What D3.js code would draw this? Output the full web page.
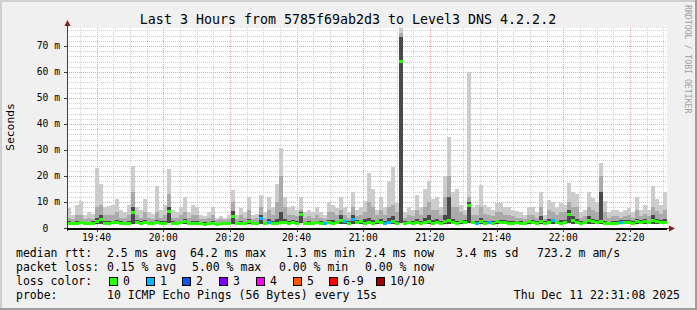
<!DOCTYPE html>
<html>
<head>
<meta charset="utf-8">
<script src="https://cdn.jsdelivr.net/npm/d3@7"></script>
<style>
  body { margin: 0; background: #f0f0f0; }
  text { font-family: "DejaVu Sans Mono", monospace; white-space: pre; }
</style>
</head>
<body>
<svg id="chart" width="697" height="310"></svg>
<script>
// chart data
const title = "Last 3 Hours from 5785f69ab2d3 to Level3 DNS 4.2.2.2";
const yAxisTitle = "Seconds";
const startTime = new Date(2025, 11, 11, 19, 31, 8);
const endTime = new Date(2025, 11, 11, 22, 31, 8);
const stepSec = 72; // one sample every 72s
const yTicks = [0, 10, 20, 30, 40, 50, 60, 70];
const yTickLabels = ["0  ", "10 m", "20 m", "30 m", "40 m", "50 m", "60 m", "70 m"];

// median rtt per sample (ms)
const medianRtt = [
  2.0, 1.8, 2.0, 2.2, 1.9, 1.8, 2.0, 2.5, 3.5, 2.0, 2.1, 2.2, 2.4, 2.0, 1.9,
  2.1, 6.0, 2.3, 2.0, 2.2, 1.9, 1.8, 2.3, 2.0, 2.1, 6.5, 2.0, 1.9, 2.2, 2.6,
  1.9, 2.1, 2.0, 1.8, 1.7, 1.9, 2.0, 1.7, 1.8, 1.8, 1.9, 4.5, 1.8, 2.0, 1.9,
  2.5, 1.8, 1.9, 4.0, 1.8, 2.2, 2.0, 2.1, 2.2, 2.4, 1.9, 2.3, 2.1, 5.4, 1.9,
  2.0, 1.9, 2.2, 2.0, 1.9, 2.4, 2.0, 2.2, 3.0, 2.5, 2.0, 3.5, 2.3, 2.5, 2.0,
  2.4, 2.0, 2.6, 2.2, 1.9, 2.3, 2.5, 2.1, 64.2, 2.0, 2.2, 2.1, 2.4, 1.9, 2.3,
  2.5, 2.0, 2.4, 2.1, 2.6, 3.0, 2.2, 1.9, 2.5, 2.3, 9.0, 2.2, 2.0, 2.5, 2.1,
  2.2, 2.0, 2.5, 2.3, 2.4, 2.1, 1.9, 2.2, 2.0, 1.8, 2.5, 2.3, 2.0, 2.6, 2.0,
  2.4, 3.0, 2.2, 2.0, 2.3, 5.4, 3.0, 2.4, 2.0, 2.2, 3.0, 2.6, 2.2, 2.5, 2.1,
  1.9, 2.0, 1.9, 2.3, 2.4, 2.2, 2.0, 2.6, 2.4, 2.6, 2.2, 3.0, 2.6, 2.3, 2.4
];
// lowest ping per sample
const smokeLow = [
  1.4, 1.3, 1.4, 1.5, 1.4, 1.3, 1.4, 1.5, 1.6, 1.4, 1.4, 1.5, 1.5, 1.4, 1.3,
  1.4, 1.7, 1.5, 1.4, 1.5, 1.3, 1.3, 1.5, 1.4, 1.4, 1.8, 1.4, 1.3, 1.5, 1.6,
  1.3, 1.4, 1.4, 1.3, 1.3, 1.3, 1.4, 1.3, 1.3, 1.3, 1.3, 1.6, 1.3, 1.4, 1.3,
  1.5, 1.3, 1.3, 1.6, 1.3, 1.5, 1.4, 1.4, 1.5, 1.5, 1.3, 1.5, 1.4, 1.8, 1.3,
  1.4, 1.3, 1.5, 1.4, 1.3, 1.5, 1.4, 1.5, 1.7, 1.5, 1.4, 1.7, 1.5, 1.5, 1.4,
  1.5, 1.4, 1.6, 1.5, 1.3, 1.5, 1.6, 1.4, 2.0, 1.4, 1.5, 1.4, 1.5, 1.3, 1.5,
  1.6, 1.4, 1.5, 1.4, 1.6, 1.7, 1.5, 1.3, 1.6, 1.5, 2.0, 1.5, 1.4, 1.6, 1.4,
  1.5, 1.4, 1.6, 1.5, 1.5, 1.4, 1.3, 1.5, 1.4, 1.3, 1.6, 1.5, 1.4, 1.6, 1.4,
  1.5, 1.7, 1.5, 1.4, 1.5, 1.8, 1.7, 1.5, 1.4, 1.5, 1.7, 1.6, 1.5, 1.6, 1.4,
  1.3, 1.4, 1.3, 1.5, 1.5, 1.5, 1.4, 1.6, 1.5, 1.6, 1.5, 1.7, 1.6, 1.5, 1.5
];
// inner (darkest) smoke band top
const smokeDark = [
  2.5, 2.3, 2.6, 2.8, 2.4, 2.3, 2.5, 4.0, 5.0, 2.6, 2.7, 2.8, 3.2, 2.5, 2.4,
  2.8, 8.0, 2.9, 2.5, 2.9, 2.4, 2.3, 3.2, 2.5, 2.7, 8.0, 2.5, 2.4, 2.8, 3.4,
  2.4, 2.8, 2.6, 2.3, 2.2, 2.4, 2.7, 2.1, 2.3, 2.3, 2.4, 6.5, 2.3, 2.7, 2.4,
  3.6, 2.3, 2.4, 5.0, 2.3, 3.4, 2.7, 3.6, 6.0, 3.4, 2.5, 2.9, 2.7, 6.0, 2.4,
  2.6, 2.4, 2.8, 2.5, 2.4, 3.2, 3.0, 2.8, 5.0, 3.0, 2.5, 5.0, 2.9, 3.0, 3.4,
  4.0, 3.2, 3.0, 3.4, 2.5, 4.0, 4.5, 2.8, 73.5, 2.5, 2.8, 2.7, 3.6, 2.5, 4.0,
  5.0, 3.2, 3.4, 2.7, 5.0, 12.0, 3.6, 2.6, 3.2, 2.9, 10.0, 2.8, 2.6, 3.8, 2.7,
  2.8, 2.6, 3.2, 3.0, 3.0, 2.7, 2.5, 2.8, 2.6, 2.4, 3.0, 3.0, 2.6, 4.5, 2.6,
  3.4, 3.6, 2.8, 3.0, 3.0, 7.0, 4.5, 3.6, 2.6, 2.8, 4.5, 3.6, 3.0, 14.0, 2.8,
  2.4, 2.6, 2.5, 2.9, 3.0, 2.9, 2.6, 3.6, 3.0, 3.4, 2.8, 5.0, 3.6, 3.0, 3.6
];
// middle smoke band top
const smokeMid = [
  4.0, 3.5, 5.0, 5.0, 3.5, 4.0, 3.5, 8.0, 9.0, 5.0, 5.0, 5.0, 6.0, 4.0, 4.0,
  5.0, 14.0, 5.0, 4.0, 6.0, 4.0, 3.5, 6.0, 4.0, 5.0, 13.0, 4.0, 4.0, 5.0, 6.0,
  4.0, 5.0, 5.0, 3.5, 3.5, 4.0, 5.0, 3.0, 3.5, 3.0, 3.5, 10.0, 3.5, 5.0, 4.0,
  7.0, 3.5, 4.0, 8.0, 4.0, 7.0, 5.0, 10.0, 20.0, 8.0, 5.0, 5.0, 4.5, 7.0, 4.0,
  4.5, 4.0, 5.0, 4.0, 3.5, 6.0, 6.0, 5.0, 7.0, 5.0, 4.0, 8.0, 4.5, 5.0, 6.0,
  10.0, 8.0, 5.0, 7.0, 5.0, 8.0, 9.0, 6.0, 75.0, 4.0, 5.0, 4.5, 7.0, 5.0, 8.0,
  10.0, 7.0, 7.0, 5.0, 12.0, 20.0, 8.0, 8.0, 6.0, 5.0, 12.0, 5.0, 5.0, 8.0, 5.5,
  5.0, 4.5, 6.0, 6.0, 5.0, 5.0, 4.5, 4.0, 4.0, 3.5, 5.0, 5.0, 4.0, 8.0, 3.5,
  7.0, 6.0, 5.0, 6.0, 6.0, 10.0, 8.0, 8.0, 4.0, 4.5, 8.0, 7.0, 6.0, 20.0, 6.0,
  4.0, 4.5, 4.5, 4.0, 4.5, 5.0, 4.0, 7.0, 4.5, 5.5, 4.5, 8.0, 6.5, 5.5, 7.0
];
// highest ping per sample
const smokeHigh = [
  7.5, 5.0, 9.0, 10.5, 5.0, 6.0, 5.5, 23.0, 17.0, 8.0, 8.5, 9.0, 11.0, 7.0, 6.0,
  9.0, 24.0, 8.0, 7.0, 11.0, 6.0, 5.5, 16.0, 7.0, 9.0, 22.5, 7.0, 6.0, 8.0, 12.0,
  6.0, 9.0, 8.0, 5.0, 4.5, 6.0, 8.0, 4.0, 4.5, 4.0, 5.0, 14.6, 5.0, 7.5, 6.0,
  12.0, 5.0, 5.5, 12.7, 6.0, 11.8, 8.0, 17.0, 30.7, 12.0, 8.0, 8.5, 7.0, 12.0, 6.0,
  7.0, 6.0, 8.0, 6.0, 5.0, 10.0, 9.0, 7.5, 12.0, 8.0, 6.0, 14.0, 7.0, 8.0, 10.5,
  21.0, 15.0, 7.0, 12.0, 8.0, 18.0, 23.6, 9.5, 77.0, 6.0, 8.0, 7.0, 12.7, 8.0, 15.0,
  18.0, 11.0, 12.0, 8.0, 20.0, 35.0, 14.0, 15.0, 9.0, 7.0, 60.0, 8.0, 9.0, 16.5, 9.0,
  8.0, 7.0, 9.5, 9.5, 8.0, 8.0, 7.0, 6.5, 6.0, 5.0, 8.0, 8.0, 6.0, 13.8, 5.0,
  10.8, 10.0, 8.0, 9.5, 9.0, 17.4, 14.0, 13.0, 6.0, 7.0, 14.0, 11.4, 10.0, 25.0, 10.5,
  6.0, 7.0, 7.0, 6.0, 7.0, 7.5, 6.0, 12.0, 7.0, 8.8, 7.0, 16.0, 11.0, 9.0, 14.0
];
// samples with lost pings: [sample index, pings lost]
const lossSamples = [[48, 1], [50, 1], [64, 1], [69, 1], [71, 1], [79, 1], [80, 1], [102, 1], [105, 1], [121, 1], [138, 1]];

const lossLabels = ["0", "1", "2", "3", "4", "5", "6-9", "10/10"];
const lossColors = ["#26ff00", "#00b8ff", "#0059ff", "#7e00ff", "#ff00ff", "#ff5500", "#ff0000", "#a10000"];

const legendRtt = ["median rtt:", "2.5 ms avg", "64.2 ms max", "1.3 ms min", "2.4 ms now", "3.4 ms sd", "723.2 m am/s"];
const legendLoss = ["packet loss:", "0.15 % avg", "5.00 % max", "0.00 % min", "0.00 % now"];
const legendLossTitle = "loss color:";
const legendProbe = ["probe:", "10 ICMP Echo Pings (56 Bytes) every 15s"];
const stampText = "Thu Dec 11 22:31:08 2025";
const creditText = "RRDTOOL / TOBI OETIKER";

// layout
const W = 697, H = 310;
const plotL = 67, plotR = 667, plotT = 28, plotB = 228;

const svg = d3.select("#chart");

// frame with rrdtool style shading
svg.append("rect").attr("width", W).attr("height", H).attr("fill", "#f0f0f0");
svg.append("path").attr("d", `M0,${H} V0 H${W}`).attr("fill", "none").attr("stroke", "#cfcfcf").attr("stroke-width", 4);
svg.append("path").attr("d", `M0,${H} H${W} V0`).attr("fill", "none").attr("stroke", "#9e9e9e").attr("stroke-width", 4);

svg.append("rect")
  .attr("x", plotL).attr("y", plotT)
  .attr("width", plotR - plotL).attr("height", plotB - plotT)
  .attr("fill", "#ffffff");

const x = d3.scaleTime().domain([startTime, endTime]).range([plotL, plotR]);
const y = d3.scaleLinear().domain([0, 76.92]).range([plotB, plotT]);

// grid
const minorX = x.ticks(d3.timeMinute.every(5));
const majorX = x.ticks(d3.timeMinute.every(20));
const minorY = d3.range(0, 77, 2);

const grid = svg.append("g").attr("shape-rendering", "crispEdges");
grid.selectAll(".gx").data(minorX).enter().append("line")
  .attr("x1", (d) => Math.round(x(d)) + 0.5).attr("x2", (d) => Math.round(x(d)) + 0.5)
  .attr("y1", plotT).attr("y2", plotB)
  .attr("stroke", "#cfcfcf").attr("stroke-dasharray", "1,1");
grid.selectAll(".gy").data(minorY).enter().append("line")
  .attr("x1", plotL).attr("x2", plotR)
  .attr("y1", (d) => Math.round(y(d)) + 0.5).attr("y2", (d) => Math.round(y(d)) + 0.5)
  .attr("stroke", "#cfcfcf").attr("stroke-dasharray", "1,1");
grid.selectAll(".mx").data(majorX).enter().append("line")
  .attr("x1", (d) => Math.round(x(d)) + 0.5).attr("x2", (d) => Math.round(x(d)) + 0.5)
  .attr("y1", plotT).attr("y2", plotB)
  .attr("stroke", "#eea0a0").attr("stroke-dasharray", "1,1");
grid.selectAll(".my").data(yTicks).enter().append("line")
  .attr("x1", plotL).attr("x2", plotR)
  .attr("y1", (d) => Math.round(y(d)) + 0.5).attr("y2", (d) => Math.round(y(d)) + 0.5)
  .attr("stroke", "#eea0a0").attr("stroke-dasharray", "1,1");

// samples
const samples = medianRtt.map((m, i) => {
  const t0 = new Date(startTime.getTime() + i * stepSec * 1000);
  const t1 = new Date(startTime.getTime() + (i + 1) * stepSec * 1000);
  return { t0, t1, median: m, lo: smokeLow[i], dark: smokeDark[i], mid: smokeMid[i], hi: smokeHigh[i], lost: 0 };
});
for (const [idx, lost] of lossSamples) samples[idx].lost = lost;

const yc = (v) => y(Math.min(v, 76.92));
const data = svg.append("g").attr("shape-rendering", "crispEdges");
const bands = [["hi", "#cccccc"], ["mid", "#aaaaaa"], ["dark", "#4a4a4a"]];
for (const [key, col] of bands) {
  data.selectAll(".s-" + key).data(samples).enter().append("rect")
    .attr("x", (d) => x(d.t0))
    .attr("width", (d) => x(d.t1) - x(d.t0))
    .attr("y", (d) => yc(d[key]))
    .attr("height", (d) => Math.max(0, y(d.lo) - yc(d[key])))
    .attr("fill", col);
}

// median, coloured by loss
data.selectAll(".med").data(samples).enter().append("rect")
  .attr("x", (d) => x(d.t0))
  .attr("width", (d) => x(d.t1) - x(d.t0))
  .attr("y", (d) => Math.round(y(d.median)) - 1)
  .attr("height", 3)
  .attr("fill", (d) => lossColors[d.lost]);

// axes
const axisCol = "#3a3a3a";
const arrowCol = "#7f1f1f";
svg.append("line").attr("x1", plotL + 0.5).attr("x2", plotL + 0.5).attr("y1", plotB + 3).attr("y2", 22)
  .attr("stroke", axisCol);
svg.append("line").attr("x1", plotL - 3).attr("x2", 671).attr("y1", plotB + 0.5).attr("y2", plotB + 0.5)
  .attr("stroke", axisCol);
svg.append("line").attr("x1", plotL).attr("x2", plotR).attr("y1", plotB + 1).attr("y2", plotB + 1)
  .attr("stroke", "#000").attr("stroke-width", 2);
svg.append("path").attr("d", `M${plotL - 2.5},26 L${plotL + 0.5},20 L${plotL + 3.5},26 Z`).attr("fill", arrowCol);
svg.append("path").attr("d", `M669,${plotB - 2.5} L675,${plotB + 0.5} L669,${plotB + 3.5} Z`).attr("fill", arrowCol);

const ticks = svg.append("g").attr("shape-rendering", "crispEdges");
ticks.selectAll(".tx").data(majorX).enter().append("line")
  .attr("x1", (d) => Math.round(x(d)) + 0.5).attr("x2", (d) => Math.round(x(d)) + 0.5)
  .attr("y1", plotB + 1).attr("y2", plotB + 4).attr("stroke", axisCol);
ticks.selectAll(".ty").data(yTicks).enter().append("line")
  .attr("x1", plotL - 3).attr("x2", plotL)
  .attr("y1", (d) => Math.round(y(d)) + 0.5).attr("y2", (d) => Math.round(y(d)) + 0.5).attr("stroke", axisCol);

// tick labels
const fmt = d3.timeFormat("%H:%M");
svg.selectAll(".xl").data(majorX).enter().append("text")
  .attr("x", (d) => x(d)).attr("y", 241)
  .attr("text-anchor", "middle").attr("font-size", "9.7px")
  .text((d) => fmt(d));
svg.selectAll(".yl").data(yTicks).enter().append("text")
  .attr("x", 60).attr("y", (d) => y(d) + 3.5)
  .attr("text-anchor", "end").attr("font-size", "9.7px")
  .text((d, i) => yTickLabels[i]);

// titles
svg.append("text").attr("x", 348).attr("y", 24).attr("text-anchor", "middle")
  .attr("font-size", "13.3px").text(title);
svg.append("text").attr("transform", "translate(14,127) rotate(-90)").attr("text-anchor", "middle")
  .attr("font-size", "11.3px").text(yAxisTitle);
svg.append("text").attr("transform", "translate(685,5) rotate(90)")
  .attr("font-size", "8.2px").attr("fill", "#a0a0a0").text(creditText);

// legend
const lg = svg.append("g").attr("font-size", "11.5px");
const rttX = [16, 107, 190, 286, 365, 456, 537];
legendRtt.forEach((t, i) => lg.append("text").attr("x", rttX[i]).attr("y", 257).text(t));
const lossX = [16, 107, 192, 279, 365];
legendLoss.forEach((t, i) => lg.append("text").attr("x", lossX[i]).attr("y", 271).text(t));
lg.append("text").attr("x", 16).attr("y", 285).text(legendLossTitle);
const boxX = [109, 146, 182, 219, 256, 293, 329, 376];
lossLabels.forEach((t, i) => {
  lg.append("rect").attr("x", boxX[i] + 0.5).attr("y", 277.5).attr("width", 8).attr("height", 8)
    .attr("fill", lossColors[i]).attr("stroke", "#000");
  lg.append("text").attr("x", boxX[i] + 14).attr("y", 285).text(t);
});
lg.append("text").attr("x", 16).attr("y", 299).text(legendProbe[0]);
lg.append("text").attr("x", 107).attr("y", 299).text(legendProbe[1]);
lg.append("text").attr("x", 680).attr("y", 299).attr("text-anchor", "end").text(stampText);
</script>
</body>
</html>
